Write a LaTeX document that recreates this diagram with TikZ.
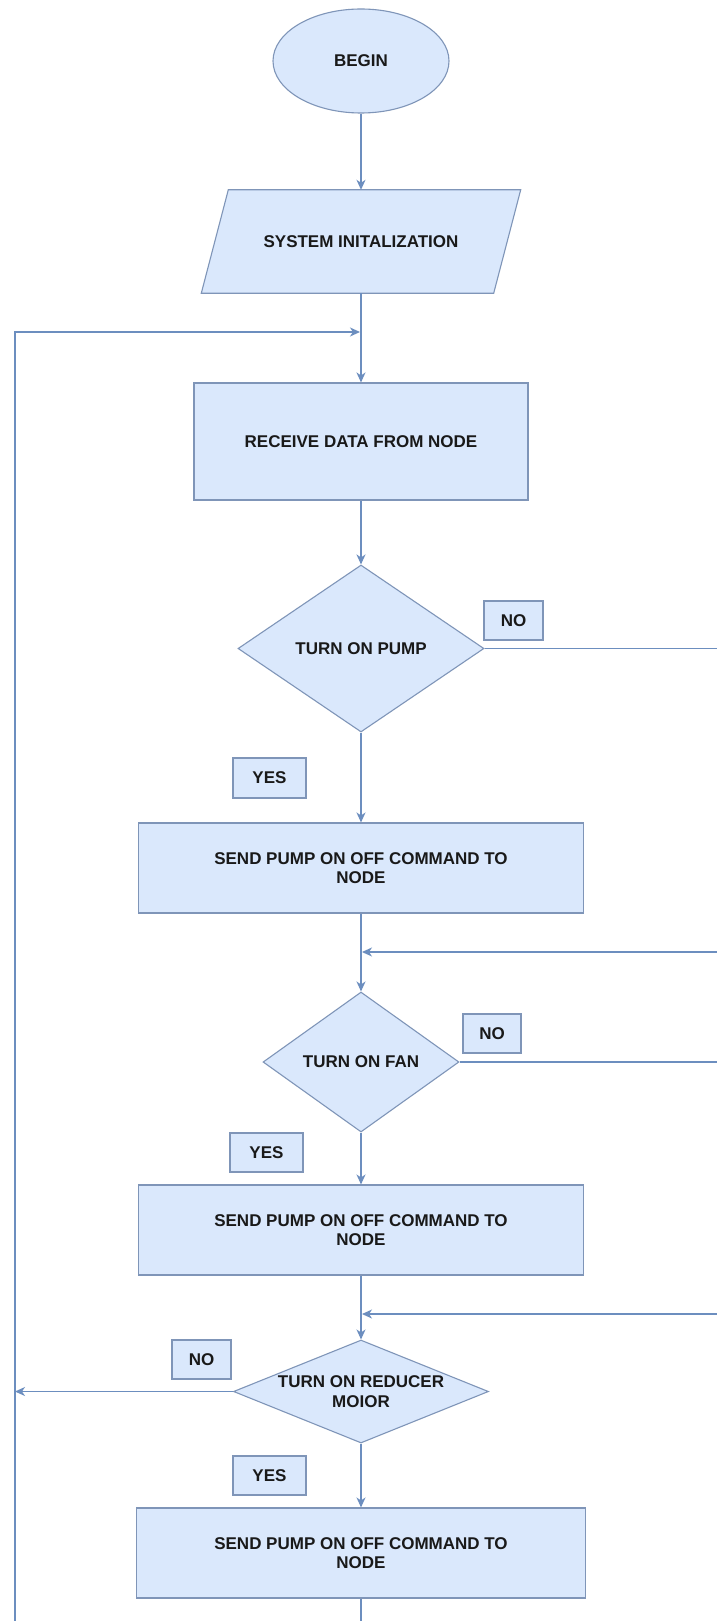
\documentclass[tikz,border=0pt]{standalone}
\usepackage{fontspec}
\setmainfont{Liberation Sans}
\usetikzlibrary{shapes.geometric,arrows.meta,backgrounds}
\definecolor{boxfill}{HTML}{DAE8FC}
\definecolor{boxline}{HTML}{7F95B8}
\definecolor{edgeline}{HTML}{6C8EBF}
\begin{document}
\begin{tikzpicture}[x=1pt,y=-1pt,
  every node/.style={font=\fontsize{17}{19.5}\selectfont\bfseries, text=black!90, inner sep=0pt},
  shapebox/.style={draw=boxline, fill=boxfill, line width=1.1pt},
  procbox/.style={shapebox, rectangle, align=center},
  decbox/.style={shapebox, diamond},
  tagbox/.style={shapebox, rectangle},
  flow/.style={draw=edgeline, line width=1.3pt, -{Stealth[length=10pt,width=9pt,inset=3pt]}},
  plain/.style={draw=edgeline, line width=1.3pt}
]
\useasboundingbox (0,0) rectangle (716,1621);

% main nodes
\node[shapebox, ellipse, minimum width=176pt, minimum height=104pt] (begin) at (361,61) {BEGIN};
\node[rectangle, minimum width=292pt, minimum height=103pt] (init) at (361,241.5) {SYSTEM INITALIZATION};
\node[procbox, minimum width=334pt, minimum height=117pt] (recv) at (361,441.5) {RECEIVE DATA FROM NODE};
\node[decbox, minimum width=246pt, minimum height=167pt] (pump) at (361,648.5) {TURN ON PUMP};
\node[procbox, minimum width=445pt, minimum height=90pt] (sendA) at (361,868) {SEND PUMP ON OFF COMMAND TO\\NODE};
\node[decbox, minimum width=196pt, minimum height=140pt] (fan) at (361,1062) {TURN ON FAN};
\node[procbox, minimum width=445pt, minimum height=90pt] (sendB) at (361,1230) {SEND PUMP ON OFF COMMAND TO\\NODE};
\node[decbox, minimum width=255pt, minimum height=103pt] (motor) at (361,1391.5) {};
\node[align=center] (motortext) at (motor.center) {TURN ON REDUCER\\MOIOR};
\node[procbox, minimum width=449pt, minimum height=90pt] (sendC) at (361,1553) {SEND PUMP ON OFF COMMAND TO\\NODE};

% parallelogram outline of the initialisation step
\begin{scope}[on background layer]
  \fill[white] (0,0) rectangle (716,1621);
  \path[shapebox] ([xshift=13.5pt]init.north west) -- ([xshift=13.5pt]init.north east)
     -- ([xshift=-13.5pt]init.south east) -- ([xshift=-13.5pt]init.south west) -- cycle;
\end{scope}

% tags
\node[tagbox, minimum width=59pt, minimum height=39pt] (noA) at (513.5,620.5) {NO};
\node[tagbox, minimum width=73pt, minimum height=40pt] (yesA) at (269.5,778) {YES};
\node[tagbox, minimum width=58pt, minimum height=39pt] (noB) at (492,1033.5) {NO};
\node[tagbox, minimum width=73pt, minimum height=39pt] (yesB) at (266.5,1152.5) {YES};
\node[tagbox, minimum width=59pt, minimum height=39pt] (noC) at (201.5,1359.5) {NO};
\node[tagbox, minimum width=73pt, minimum height=39pt] (yesC) at (269.5,1475.5) {YES};

% free ends
\coordinate (loopTop) at (360,332);
\coordinate (leftTop) at (15,332);
\coordinate (leftBot) at (15,1625);
\coordinate (midBot) at (361,1625);
\coordinate (rA) at (720,648.5);
\coordinate (rB) at (720,952);
\coordinate (jB) at (362,952);
\coordinate (rC) at (720,1062);
\coordinate (rD) at (720,1314);
\coordinate (jD) at (362,1314);

% connectors
\draw[flow] (begin) -- (init);
\draw[flow] (init) -- (recv);
\draw[flow] (leftBot) -- (leftTop) -- (loopTop);
\draw[flow] (recv) -- (pump);
\draw[plain] (pump.east) -- (rA);
\draw[flow] (pump) -- (sendA);
\draw[flow] (sendA) -- (fan);
\draw[flow] (rB) -- (jB);
\draw[plain] (fan.east) -- (rC);
\draw[flow] (fan) -- (sendB);
\draw[flow] (sendB) -- (motor);
\draw[flow] (rD) -- (jD);
\draw[flow] (motor.west) -- (motor.west -| leftTop);
\draw[flow] (motor) -- (sendC);
\draw[plain] (sendC) -- (midBot);
\end{tikzpicture}
\end{document}
